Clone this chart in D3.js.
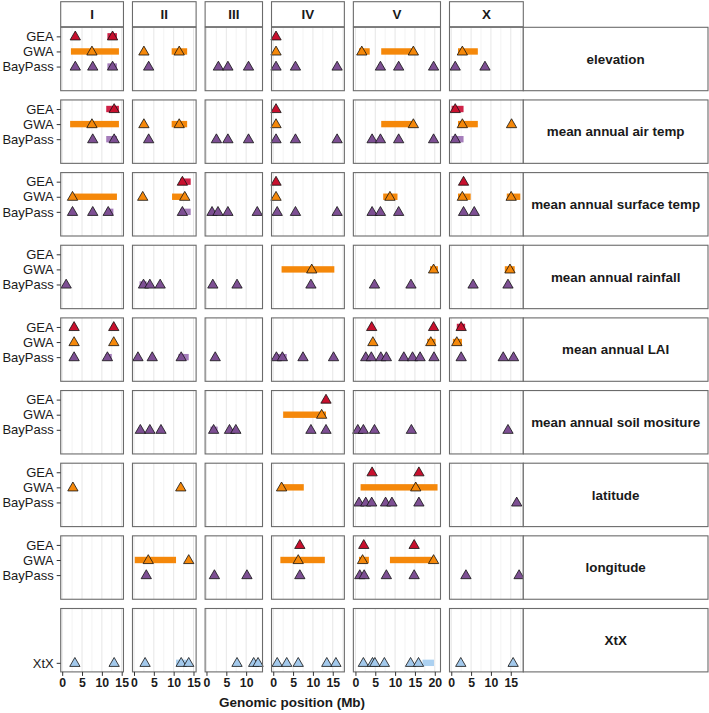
<!DOCTYPE html>
<html>
<head>
<meta charset="utf-8">
<script src="https://cdn.jsdelivr.net/npm/d3@7"></script>
<style>
  body { margin: 0; background: #fff; }
  svg { display: block; font-family: "Liberation Sans", Arial, Helvetica, sans-serif; }
</style>
</head>
<body>
<div id="okvir"></div>
<script>
// 1. Podaci
const chromosomes = ["I", "II", "III", "IV", "V", "X"]
const chromLengths = [15.07, 15.28, 13.78, 17.49, 20.92, 17.72]
const traits = ["elevation", "mean annual air temp", "mean annual surface temp", "mean annual rainfall",
  "mean annual LAI", "mean annual soil mositure", "latitude", "longitude", "XtX"]
const methods = ["GEA", "GWA", "BayPass", "XtX"]
const xTickValues = [0, 5, 10, 15, 20]

// hits: [trait, chromosome, [positions in Mb]]
const geaHits = [
  ["elevation", "I", [3.3, 12.7]], ["elevation", "IV", [0.7]],
  ["mean annual air temp", "I", [13.1]], ["mean annual air temp", "IV", [0.7]], ["mean annual air temp", "X", [1.0]],
  ["mean annual surface temp", "II", [12.2]], ["mean annual surface temp", "IV", [0.7]], ["mean annual surface temp", "X", [3.1]],
  ["mean annual LAI", "I", [3.0, 13.0]], ["mean annual LAI", "V", [4.1, 19.7]], ["mean annual LAI", "X", [2.5]],
  ["mean annual soil mositure", "IV", [13.3]],
  ["latitude", "V", [4.2, 16.0]],
  ["longitude", "IV", [6.7]], ["longitude", "V", [2.1, 14.8]]
]
const gwaHits = [
  ["elevation", "I", [7.5]], ["elevation", "II", [2.5, 11.4]], ["elevation", "IV", [0.7]], ["elevation", "V", [1.6, 14.6]], ["elevation", "X", [2.8]],
  ["mean annual air temp", "I", [7.5]], ["mean annual air temp", "II", [2.5, 11.4]], ["mean annual air temp", "IV", [0.7]],
  ["mean annual air temp", "V", [14.6]], ["mean annual air temp", "X", [2.8, 15.2]],
  ["mean annual surface temp", "I", [2.6]], ["mean annual surface temp", "II", [2.2, 12.8]], ["mean annual surface temp", "IV", [0.7]],
  ["mean annual surface temp", "V", [8.7]], ["mean annual surface temp", "X", [2.8, 15.1]],
  ["mean annual rainfall", "IV", [9.7]], ["mean annual rainfall", "V", [19.7]], ["mean annual rainfall", "X", [14.8]],
  ["mean annual LAI", "I", [3.0, 13.0]], ["mean annual LAI", "V", [4.4, 19.0]], ["mean annual LAI", "X", [1.4]],
  ["mean annual soil mositure", "IV", [12.2]],
  ["latitude", "I", [2.7]], ["latitude", "II", [11.8]], ["latitude", "IV", [2.1]], ["latitude", "V", [15.2]],
  ["longitude", "II", [3.6, 13.8]], ["longitude", "IV", [6.3]], ["longitude", "V", [1.8, 19.7]]
]
const bayPassHits = [
  ["elevation", "I", [3.3, 7.7, 12.7]], ["elevation", "II", [3.7]], ["elevation", "III", [3.0, 5.4, 10.6]],
  ["elevation", "IV", [0.7, 5.6, 16.1]], ["elevation", "V", [6.3, 10.9, 19.7]], ["elevation", "X", [1.0, 8.5]],
  ["mean annual air temp", "I", [7.7, 13.1]], ["mean annual air temp", "II", [3.7]], ["mean annual air temp", "III", [2.5, 5.4, 10.6]],
  ["mean annual air temp", "IV", [0.7, 5.6, 16.1]], ["mean annual air temp", "V", [4.2, 6.3, 10.9, 19.7]], ["mean annual air temp", "X", [1.0]],
  ["mean annual surface temp", "I", [2.6, 7.7, 11.6]], ["mean annual surface temp", "II", [12.2]],
  ["mean annual surface temp", "III", [1.4, 2.9, 5.4, 12.8]], ["mean annual surface temp", "IV", [1.0, 5.6, 16.1]],
  ["mean annual surface temp", "V", [4.2, 6.3, 10.9]], ["mean annual surface temp", "X", [3.1, 5.8]],
  ["mean annual rainfall", "I", [1.0]], ["mean annual rainfall", "II", [2.4, 4.0, 6.6]], ["mean annual rainfall", "III", [1.6, 7.7]],
  ["mean annual rainfall", "IV", [9.5]], ["mean annual rainfall", "V", [4.8, 14.0]], ["mean annual rainfall", "X", [5.5, 14.3]],
  ["mean annual LAI", "I", [3.0, 11.4]], ["mean annual LAI", "II", [1.0, 4.6, 11.9]], ["mean annual LAI", "III", [2.2]],
  ["mean annual LAI", "IV", [0.8, 2.3, 7.5, 15.2]], ["mean annual LAI", "V", [2.6, 4.0, 6.4, 7.8, 12.2, 14.4, 16.3, 19.8]],
  ["mean annual LAI", "X", [2.5, 13.1, 15.7]],
  ["mean annual soil mositure", "II", [1.6, 4.0, 6.8]], ["mean annual soil mositure", "III", [1.8, 5.8, 7.4]],
  ["mean annual soil mositure", "IV", [9.5, 13.3]], ["mean annual soil mositure", "V", [0.6, 2.0, 4.8, 14.1]],
  ["mean annual soil mositure", "X", [14.3]],
  ["latitude", "V", [0.9, 2.6, 4.1, 7.6, 9.2, 16.0]], ["latitude", "X", [16.5]],
  ["longitude", "II", [3.1]], ["longitude", "III", [2.0, 10.2]], ["longitude", "IV", [6.7]],
  ["longitude", "V", [1.1, 2.2, 7.8, 14.8]], ["longitude", "X", [3.7, 17.1]]
]
const xtxHits = [
  ["XtX", "I", [3.2, 13.1]], ["XtX", "II", [2.8, 11.9, 13.8]], ["XtX", "III", [7.7, 11.9, 13.0]],
  ["XtX", "IV", [1.0, 3.4, 6.3, 13.5, 15.8]], ["XtX", "V", [2.0, 4.3, 4.9, 7.3, 13.9, 15.9]], ["XtX", "X", [2.4, 15.6]]
]

// intervals: [trait, chromosome, start, end]
const geaIntervals = [
  ["elevation", "I", 11.4, 13.8],
  ["mean annual air temp", "I", 11.1, 14.3], ["mean annual air temp", "X", 0.1, 3.1],
  ["mean annual surface temp", "II", 11.7, 14.3],
  ["mean annual LAI", "X", 1.4, 3.5]
]
const gwaIntervals = [
  ["elevation", "I", 2.2, 14.3], ["elevation", "II", 9.5, 13.4], ["elevation", "V", 0.9, 3.6],
  ["elevation", "V", 6.5, 14.6], ["elevation", "X", 1.7, 6.7],
  ["mean annual air temp", "I", 2.0, 14.3], ["mean annual air temp", "II", 9.5, 13.4],
  ["mean annual air temp", "V", 6.5, 14.6], ["mean annual air temp", "X", 1.7, 6.7],
  ["mean annual surface temp", "I", 2.6, 13.8], ["mean annual surface temp", "II", 9.6, 13.3],
  ["mean annual surface temp", "V", 7.0, 10.6], ["mean annual surface temp", "X", 1.7, 4.9], ["mean annual surface temp", "X", 14.0, 17.4],
  ["mean annual rainfall", "IV", 2.1, 15.4], ["mean annual rainfall", "V", 18.8, 20.8], ["mean annual rainfall", "X", 13.5, 16.0],
  ["mean annual LAI", "V", 18.1, 20.2], ["mean annual LAI", "X", 0.4, 2.7],
  ["mean annual soil mositure", "IV", 2.5, 13.3],
  ["latitude", "IV", 2.1, 7.7], ["latitude", "V", 1.3, 20.7],
  ["longitude", "II", 0.2, 10.6], ["longitude", "IV", 1.8, 13.0], ["longitude", "V", 0.9, 3.4], ["longitude", "V", 8.7, 19.7]
]
const bayPassIntervals = [
  ["elevation", "I", 11.4, 13.8],
  ["mean annual air temp", "I", 11.1, 13.8], ["mean annual air temp", "X", 0.1, 3.1],
  ["mean annual surface temp", "I", 11.1, 12.9], ["mean annual surface temp", "II", 11.7, 14.3],
  ["mean annual rainfall", "II", 1.4, 3.2],
  ["mean annual LAI", "I", 10.9, 12.5], ["mean annual LAI", "II", 11.2, 13.8], ["mean annual LAI", "IV", 0.3, 3.4],
  ["mean annual soil mositure", "III", 1.0, 2.8]
]
const xtxIntervals = [
  ["XtX", "II", 10.6, 13.3], ["XtX", "V", 16.9, 19.8]
]

const boje = {GEA: "#c8102e", GWA: "#f5880a", BayPass: "#7d4f93", XtX: "#a3c9ec"}
const bojeIntervala = {GEA: "#cf2247", GWA: "#f5880a", BayPass: "#a57dbb", XtX: "#acd1f1"}

// 2. Dimenzije
const dim = {
  sirina: 709, visina: 713,
  left: 60.7, top: 27.3, rowH: 63.4, rowStep: 72.65, gap: 9,
  panelsRight: 523.3, stripRight: 708
}
const pxPerMb = (dim.panelsRight - dim.left - 5 * dim.gap) / d3.sum(chromLengths, l => l * 1.05)

const xScales = {}
let x0 = dim.left
chromosomes.forEach((c, i) => {
  const L = chromLengths[i]
  const w = L * 1.05 * pxPerMb
  xScales[c] = d3.scaleLinear().domain([-0.025 * L, 1.025 * L]).range([x0, x0 + w])
  x0 += w + dim.gap
})
const rowTop = t => dim.top + traits.indexOf(t) * dim.rowStep
const yScale = d3.scalePoint().domain(methods).range([0, dim.rowH]).padding(0.6)

// 3. Canvas
const okvir = d3.select("#okvir").append("svg")
  .attr("width", dim.sirina)
  .attr("height", dim.visina)

// 4. Paneli i mreza
const paneli = []
traits.forEach(t => chromosomes.forEach((c, i) => paneli.push({t, c, L: chromLengths[i]})))

const pozadina = okvir.append("g")
paneli.forEach(p => {
  const xs = xScales[p.c]
  const g = pozadina.append("g").attr("transform", `translate(0,${rowTop(p.t)})`)
  g.append("rect")
    .attr("x", xs.range()[0]).attr("y", 0)
    .attr("width", xs.range()[1] - xs.range()[0]).attr("height", dim.rowH)
    .attr("fill", "#fff")
  const minor = d3.range(2.5, p.L * 1.025, 5)
  const major = d3.range(0, p.L * 1.025, 5)
  g.selectAll(".minor").data(minor).join("line")
    .attr("x1", d => xs(d)).attr("x2", d => xs(d))
    .attr("y1", 0).attr("y2", dim.rowH)
    .attr("stroke", "#f0f0f0").attr("stroke-width", 0.8)
  g.selectAll(".major").data(major).join("line")
    .attr("x1", d => xs(d)).attr("x2", d => xs(d))
    .attr("y1", 0).attr("y2", dim.rowH)
    .attr("stroke", "#e3e3e3").attr("stroke-width", 0.9)
})

// 5. Intervali
const intervali = [
  ...geaIntervals.map(d => ({m: "GEA", t: d[0], c: d[1], s: d[2], e: d[3]})),
  ...gwaIntervals.map(d => ({m: "GWA", t: d[0], c: d[1], s: d[2], e: d[3]})),
  ...bayPassIntervals.map(d => ({m: "BayPass", t: d[0], c: d[1], s: d[2], e: d[3]})),
  ...xtxIntervals.map(d => ({m: "XtX", t: d[0], c: d[1], s: d[2], e: d[3]}))
]
okvir.append("g").selectAll("rect")
  .data(intervali)
  .join("rect")
  .attr("x", d => xScales[d.c](d.s))
  .attr("width", d => xScales[d.c](d.e) - xScales[d.c](d.s))
  .attr("y", d => rowTop(d.t) + yScale(d.m) - 3.2)
  .attr("height", 6.4)
  .attr("fill", d => bojeIntervala[d.m])

// 6. Tocke
const tocke = []
const dodaj = (arr, m) => arr.forEach(d => d[2].forEach(pos => tocke.push({m, t: d[0], c: d[1], pos})))
dodaj(geaHits, "GEA")
dodaj(gwaHits, "GWA")
dodaj(bayPassHits, "BayPass")
dodaj(xtxHits, "XtX")

const trokut = d3.symbol(d3.symbolTriangle, 46)
okvir.append("g").selectAll("path")
  .data(tocke)
  .join("path")
  .attr("d", trokut)
  .attr("transform", d => `translate(${xScales[d.c](d.pos)},${rowTop(d.t) + yScale(d.m) + 0.6})`)
  .attr("fill", d => boje[d.m])
  .attr("stroke", "#111")
  .attr("stroke-width", 0.8)

// 7. Okviri panela
okvir.append("g").selectAll("rect")
  .data(paneli)
  .join("rect")
  .attr("x", d => xScales[d.c].range()[0])
  .attr("y", d => rowTop(d.t))
  .attr("width", d => xScales[d.c].range()[1] - xScales[d.c].range()[0])
  .attr("height", dim.rowH)
  .attr("fill", "none")
  .attr("stroke", "#6b6b6b")
  .attr("stroke-width", 1.1)

// 8. Trake (strip) desno i gore
const desno = okvir.append("g")
traits.forEach(t => {
  desno.append("rect")
    .attr("x", dim.panelsRight).attr("y", rowTop(t))
    .attr("width", dim.stripRight - dim.panelsRight).attr("height", dim.rowH)
    .attr("fill", "#fff").attr("stroke", "#6b6b6b").attr("stroke-width", 1.1)
  desno.append("text")
    .attr("x", (dim.panelsRight + dim.stripRight) / 2)
    .attr("y", rowTop(t) + dim.rowH / 2)
    .attr("dy", "0.35em")
    .attr("text-anchor", "middle")
    .attr("font-weight", "bold")
    .attr("font-size", 13.4)
    .attr("fill", "#1a1a1a")
    .text(t)
})

const gore = okvir.append("g")
chromosomes.forEach(c => {
  const [a, b] = xScales[c].range()
  gore.append("rect")
    .attr("x", a).attr("y", 1.7)
    .attr("width", b - a).attr("height", 25)
    .attr("fill", "#fff").attr("stroke", "#6b6b6b").attr("stroke-width", 1.1)
  gore.append("text")
    .attr("x", (a + b) / 2).attr("y", 14.2)
    .attr("dy", "0.35em")
    .attr("text-anchor", "middle")
    .attr("font-weight", "bold")
    .attr("font-size", 13.4)
    .attr("fill", "#1a1a1a")
    .text(c)
})

// 9. Y os
traits.forEach(t => {
  const oznake = t === "XtX" ? ["XtX"] : ["GEA", "GWA", "BayPass"]
  const yOs = okvir.append("g")
    .attr("transform", `translate(${dim.left},${rowTop(t)})`)
    .call(d3.axisLeft(yScale).tickValues(oznake).tickSize(4).tickPadding(3))
  yOs.select(".domain").remove()
  yOs.selectAll(".tick line").attr("stroke", "#333").attr("stroke-width", 1)
  yOs.selectAll(".tick text")
    .attr("font-size", 13)
    .attr("font-family", "Liberation Sans, Arial, sans-serif")
    .attr("fill", "#1a1a1a")
})

// 10. X os
const dnoY = rowTop("XtX") + dim.rowH
chromosomes.forEach((c, i) => {
  const xOs = okvir.append("g")
    .attr("transform", `translate(0,${dnoY})`)
    .call(d3.axisBottom(xScales[c])
      .tickValues(xTickValues.filter(v => v <= chromLengths[i]))
      .tickSize(4).tickPadding(2))
  xOs.select(".domain").remove()
  xOs.selectAll(".tick line").attr("stroke", "#333").attr("stroke-width", 1)
  xOs.selectAll(".tick text")
    .attr("font-size", 12.3)
    .attr("font-weight", "bold")
    .attr("font-family", "Liberation Sans, Arial, sans-serif")
    .attr("fill", "#1a1a1a")
})

okvir.append("text")
  .attr("x", (dim.left + dim.panelsRight) / 2)
  .attr("y", 707)
  .attr("text-anchor", "middle")
  .attr("font-weight", "bold")
  .attr("font-size", 13.5)
  .attr("fill", "#1a1a1a")
  .text("Genomic position (Mb)")
</script>
</body>
</html>
